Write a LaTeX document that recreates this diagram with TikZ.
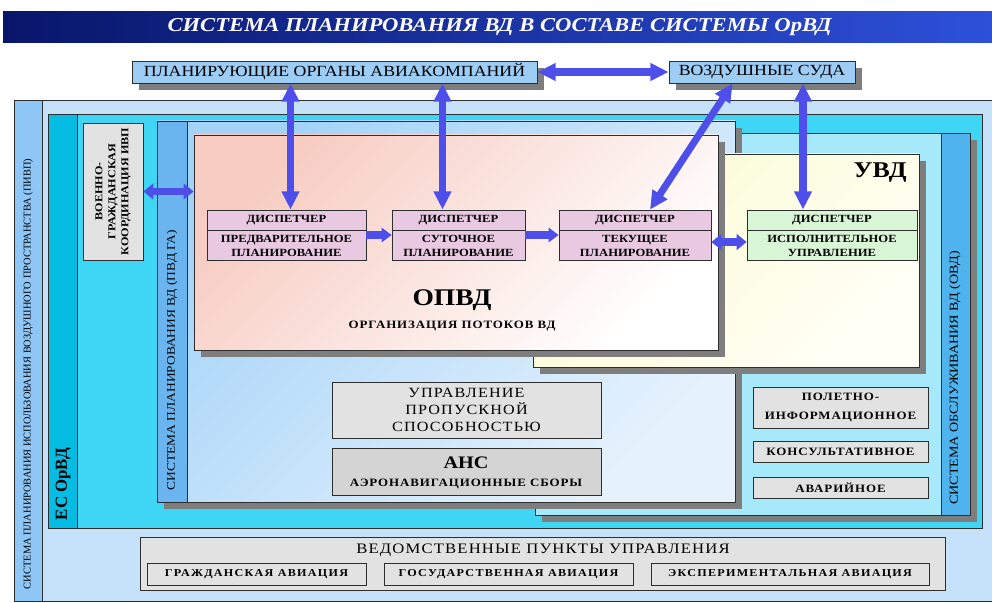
\documentclass[tikz,border=0pt]{standalone}
\usepackage{fontspec}
\setmainfont{Liberation Serif}[FakeStretch=1.15]
\newfontfamily\spfont{Liberation Serif}[FakeStretch=1.15,LetterSpace=8]
\newfontfamily\spwfont{Liberation Serif}[FakeStretch=1.15,LetterSpace=12]
\newfontfamily\nsfont{Liberation Serif}
\usetikzlibrary{fit,shadows,arrows.meta,calc}
\definecolor{pivp}{HTML}{C6E2FB}
\definecolor{pivpstrip}{HTML}{8EC6F6}
\definecolor{esorvd}{HTML}{3FD6F6}
\definecolor{esstrip}{HTML}{05BDE3}
\definecolor{ovd}{HTML}{A6E9FB}
\definecolor{ovdstrip}{HTML}{4FB4EE}
\definecolor{pvdstrip}{HTML}{6AB4F0}
\definecolor{pvdA}{HTML}{A4D3F8}
\definecolor{pvdB}{HTML}{E6F2FD}
\definecolor{opvdA}{HTML}{F7CCC2}
\definecolor{uvdA}{HTML}{FBFBD2}
\definecolor{uvdB}{HTML}{FFFFF6}
\definecolor{disp}{HTML}{E9C9E1}
\definecolor{dispg}{HTML}{D9F7D6}
\definecolor{grayA}{HTML}{E2E2E2}
\definecolor{grayB}{HTML}{D4D4D4}
\definecolor{topbox}{HTML}{9DCCF5}
\definecolor{shadowgray}{HTML}{7E7E7E}
\definecolor{arrowblue}{HTML}{4E4EEA}
\definecolor{edge}{HTML}{2E2E2E}
\definecolor{titleA}{HTML}{08166A}
\definecolor{titleB}{HTML}{2E50DA}
\newcommand\fs[2]{\fontsize{#1}{#2}\selectfont}
\tikzset{
  box/.style={draw=edge, line width=0.6pt, inner sep=0pt},
  shad/.style={drop shadow={shadow xshift=5pt, shadow yshift=-5pt, fill=shadowgray, opacity=1}},
  vtxt/.style={rotate=90, inner sep=0pt, align=center},
  tx/.style={inner sep=0pt, align=center},
  dbl/.style={draw=arrowblue, line width=5pt, {Triangle[length=13pt,width=12pt]}-{Triangle[length=13pt,width=12pt]}},
  dbls/.style={draw=arrowblue, line width=5pt, {Triangle[length=7pt,width=11pt]}-{Triangle[length=7pt,width=11pt]}},
  sgl/.style={draw=arrowblue, line width=5.5pt, -{Triangle[length=7pt,width=10pt]}},
}
\begin{document}
\begin{tikzpicture}[x=0.025cm, y=-0.025cm]
\useasboundingbox (0,0) rectangle (992,603);
\clip (0,0) rectangle (992,603);
\fill[white] (0,0) rectangle (992,603);
% title
\node[inner sep=0pt, left color=titleA, right color=titleB, fit={(3,12) (996,43)}] (title) {};
\node[tx, text=white, font=\fs{14}{16}\bfseries\itshape] at (title) {СИСТЕМА ПЛАНИРОВАНИЯ ВД В СОСТАВЕ СИСТЕМЫ ОрВД};
% outer PIVP
\node[box, fill=pivp, fit={(14,100) (998,601)}] (pivp) {};
\node[box, fill=pivpstrip, fit={(14,100) (42,601)}] (pivpstrip) {};
\node[vtxt, font=\nsfont\fs{7.4}{9}] at (28,374) {СИСТЕМА ПЛАНИРОВАНИЯ ИСПОЛЬЗОВАНИЯ ВОЗДУШНОГО ПРОСТРАНСТВА (ПИВП)};
% ES OrVD
\node[box, fill=esorvd, fit={(48,114) (982,528)}] (es) {};
\node[box, fill=esstrip, fit={(48,114) (77,528)}] (esstrip) {};
\node[vtxt, font=\nsfont\fs{12}{14}\bfseries] at (63,484) {ЕС ОрВД};
% military coordination
\node[box, fill=grayA, fit={(83,123) (143,260)}] (mil) {};
\node[vtxt, font=\fs{7.5}{9.2}\bfseries] at (mil) {ВОЕННО-\\ГРАЖДАНСКАЯ\\КООРДИНАЦИЯ ИВП};
% OVD
\node[box, fill=ovd, shad, fit={(535,133) (970,515)}] (ovd) {};
\node[box, fill=ovdstrip, fit={(941,133) (970,515)}] (ovdstrip) {};
\node[vtxt, font=\fs{8.7}{10}] at (955,378) {СИСТЕМА ОБСЛУЖИВАНИЯ ВД (ОВД)};
% PVD GA
\node[box, shad, top color=pvdA, bottom color=pvdB, shading angle=45, fit={(157,121) (735,502)}] (pvd) {};
\node[box, fill=pvdstrip, fit={(157,121) (187,502)}] (pvdstrip) {};
\node[vtxt, font=\fs{8.3}{10}] at (172,360) {СИСТЕМА ПЛАНИРОВАНИЯ ВД (ПВД ГА)};
% UVD
\node[box, shad, top color=uvdA, bottom color=uvdB, shading angle=45, fit={(533,154) (919,367)}] (uvd) {};
\node[tx, font=\fs{16}{18}\bfseries, anchor=east] at (907,173) {УВД};
% OPVD
\node[box, shad, top color=opvdA, bottom color=white, shading angle=45, fit={(194,135) (718,350)}] (opvd) {};
\node[tx, font=\fs{17}{19}\bfseries] at (452,300) {ОПВД};
\node[tx, font=\spfont\fs{8}{10}\bfseries] at (452,326) {ОРГАНИЗАЦИЯ ПОТОКОВ ВД};
% dispatcher boxes
\node[box, fill=disp, fit={(207,210) (366,260)}] (d1) {};
\node[box, fill=disp, fit={(392,210) (525,260)}] (d2) {};
\node[box, fill=disp, fit={(559,210) (711,260)}] (d3) {};
\node[box, fill=dispg, fit={(747,210) (917,260)}] (d4) {};
\foreach \d in {d1,d2,d3,d4}{
  \draw[edge, line width=0.6pt] ($(\d.north west)+(0,21)$) -- ($(\d.north east)+(0,21)$);
  \node[tx, font=\fs{7.8}{9}\bfseries] at ($(\d.north)+(0,10.5)$) {ДИСПЕТЧЕР};
}
\node[tx, font=\fs{7.8}{9.5}\bfseries] at ($(d1.south)+(0,-14.5)$) {ПРЕДВАРИТЕЛЬНОЕ\\ПЛАНИРОВАНИЕ};
\node[tx, font=\fs{7.8}{9.5}\bfseries] at ($(d2.south)+(0,-14.5)$) {СУТОЧНОЕ\\ПЛАНИРОВАНИЕ};
\node[tx, font=\fs{7.8}{9.5}\bfseries] at ($(d3.south)+(0,-14.5)$) {ТЕКУЩЕЕ\\ПЛАНИРОВАНИЕ};
\node[tx, font=\fs{7.8}{9.5}\bfseries] at ($(d4.south)+(0,-14.5)$) {ИСПОЛНИТЕЛЬНОЕ\\УПРАВЛЕНИЕ};
% lower centre boxes
\node[box, fill=grayA, fit={(332,382) (601,438)}] (capacity) {};
\node[tx, font=\spfont\fs{10}{12}] at (capacity) {УПРАВЛЕНИЕ\\ПРОПУСКНОЙ\\СПОСОБНОСТЬЮ};
\node[box, fill=grayB, fit={(332,448) (601,495)}] (ans) {};
\node[tx, font=\fs{12.5}{14}\bfseries] at (466,463) {АНС};
\node[tx, font=\spfont\fs{8}{10}\bfseries] at (466,484) {АЭРОНАВИГАЦИОННЫЕ СБОРЫ};
% right boxes
\node[box, fill=grayA, fit={(753,387) (928,428)}] (fis) {};
\node[tx, font=\spfont\fs{8}{13.7}\bfseries] at (fis) {ПОЛЕТНО-\\ИНФОРМАЦИОННОЕ};
\node[box, fill=grayA, fit={(753,441) (928,462)}] (cons) {};
\node[tx, font=\spfont\fs{8}{10}\bfseries] at (cons) {КОНСУЛЬТАТИВНОЕ};
\node[box, fill=grayA, fit={(753,477) (928,498)}] (alert) {};
\node[tx, font=\spfont\fs{8}{10}\bfseries] at (alert) {АВАРИЙНОЕ};
% bottom
\node[box, fill=grayA, fit={(140,537) (945,590)}] (units) {};
\node[tx, font=\spfont\fs{10.3}{12}] at (543,550) {ВЕДОМСТВЕННЫЕ ПУНКТЫ УПРАВЛЕНИЯ};
\node[box, fill=grayA, fit={(147,563) (366,585)}] (civ) {};
\node[tx, font=\spwfont\fs{7.5}{9}\bfseries] at (civ) {ГРАЖДАНСКАЯ АВИАЦИЯ};
\node[box, fill=grayA, fit={(384,563) (633,585)}] (gov) {};
\node[tx, font=\spwfont\fs{7.5}{9}\bfseries] at (gov) {ГОСУДАРСТВЕННАЯ АВИАЦИЯ};
\node[box, fill=grayA, fit={(651,563) (929,585)}] (exp) {};
\node[tx, font=\spwfont\fs{7.5}{9}\bfseries] at (exp) {ЭКСПЕРИМЕНТАЛЬНАЯ АВИАЦИЯ};
% top boxes
\node[box, fill=topbox, shad, fit={(132,61) (537,83)}] (plan) {};
\node[tx, font=\fs{11}{13}] at (plan) {ПЛАНИРУЮЩИЕ ОРГАНЫ АВИАКОМПАНИЙ};
\node[box, fill=topbox, shad, fit={(669,61) (855,83)}] (vs) {};
\node[tx, font=\fs{11}{13}] at (vs) {ВОЗДУШНЫЕ СУДА};
% arrows
\draw[dbl] (plan.east) -- (vs.west);
\coordinate (a1) at ($(d1.north)+(4,0)$);
\draw[dbl] (a1 |- plan.south) -- (a1);
\coordinate (a2) at ($(d2.north)+(-16,0)$);
\draw[dbl] (a2 |- plan.south) -- (a2);
\coordinate (a4s) at ($(vs.south west)+(64,0)$);
\coordinate (a4e) at ($(d3.north)+(15,0)$);
\draw[dbl] (a4s) -- (a4e);
\coordinate (a5) at ($(d4.north)+(-29,0)$);
\draw[dbl] (a5 |- vs.south) -- (a5);
\draw[sgl] (d1.east) -- (d2.west);
\draw[sgl] (d2.east) -- (d3.west);
\draw[dbls] ($(d3.east)+(0,7)$) -- ($(d4.west)+(0,7)$);
\draw[dbls] (mil.east) -- (mil.east -| opvd.west);
\end{tikzpicture}
\end{document}
